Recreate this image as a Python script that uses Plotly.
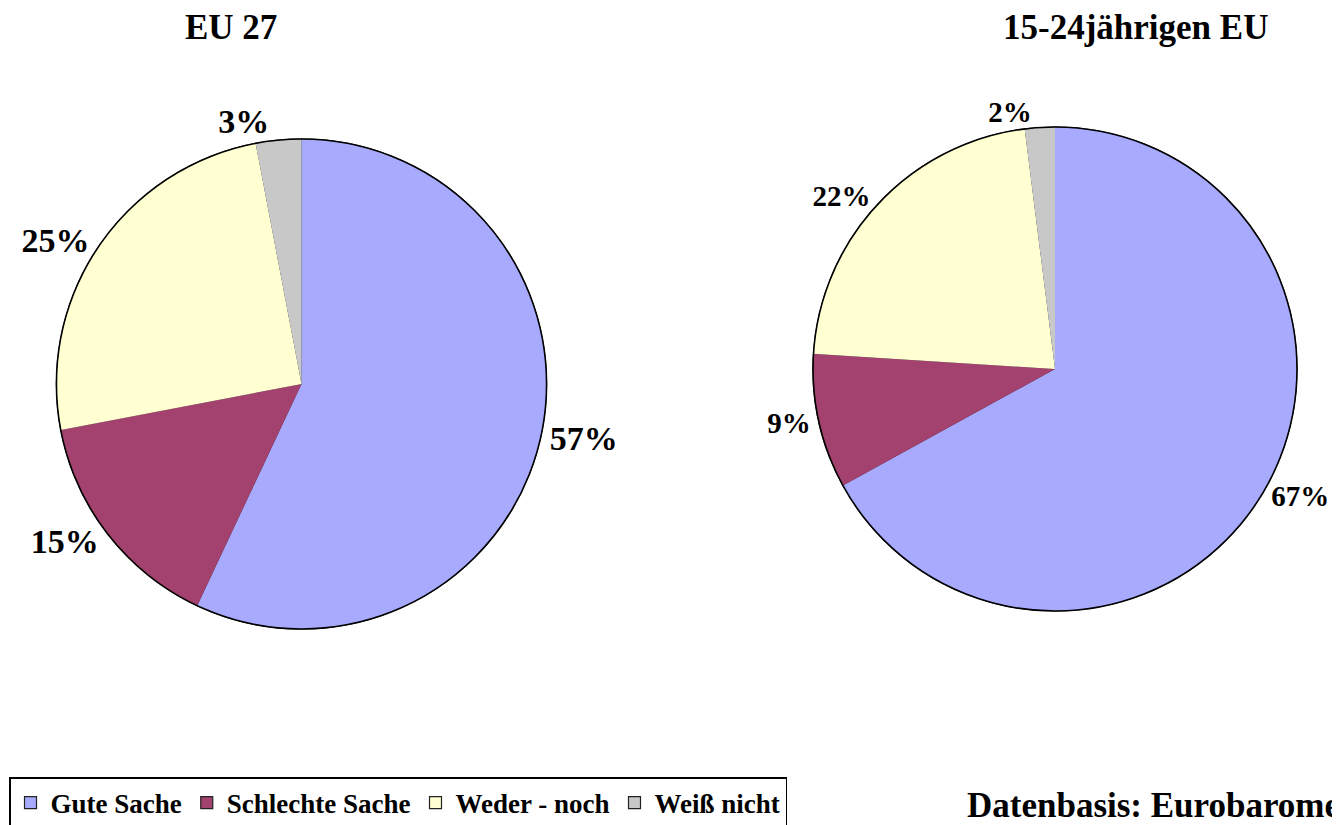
import plotly.graph_objects as go

categories = ["Gute Sache", "Schlechte Sache", "Weder - noch", "Weiß nicht"]
eu27_values = [57, 15, 25, 3]
youth_values = [67, 9, 22, 2]
titles = ["EU 27", "15-24jährigen EU"]
colors = ["#A8AAFE", "#A4426F", "#FFFFD2", "#C8C8C8"]
source_text = "Datenbasis: Eurobarometer"

SERIF = "Liberation Serif, Times New Roman, serif"
W, H = 1340, 825
OFF = 8  # page body margin

def px_x(x):
    return (x - OFF) / W

def px_y(y):
    return 1 - (y - OFF) / H

def dom(cx, cy, r):
    return dict(x=[px_x(cx - r), px_x(cx + r)], y=[px_y(cy + r), px_y(cy - r)])

left_dom = dom(301.5, 384, 245)
right_dom = dom(1055, 369, 242)

fig = go.Figure()

for vals, d, fs in [(eu27_values, left_dom, 34), (youth_values, right_dom, 29)]:
    # underlay: carries the legend symbols with dark borders
    fig.add_trace(go.Pie(
        labels=categories, values=vals, domain=d,
        sort=False, direction="clockwise", rotation=0,
        marker=dict(colors=colors, line=dict(width=1.2, color="#222")),
        textinfo="none", showlegend=True, hoverinfo="skip",
    ))
    # visible slices without radial edges
    fig.add_trace(go.Pie(
        labels=categories, values=vals, domain=d,
        sort=False, direction="clockwise", rotation=0,
        marker=dict(colors=colors, line=dict(width=0)),
        textposition="outside", texttemplate="%{value}%",
        outsidetextfont=dict(family=SERIF, size=fs, color="black", weight="bold"),
        showlegend=False, hoverinfo="label+percent",
    ))
    # outer outline circle
    fig.add_trace(go.Pie(
        labels=["outline"], values=[1], domain=d,
        marker=dict(colors=["rgba(0,0,0,0)"], line=dict(width=1.6, color="black")),
        textinfo="none", showlegend=False, hoverinfo="skip",
    ))

fig.add_annotation(x=px_x(231), y=px_y(27), xref="paper", yref="paper", text=titles[0],
                   xanchor="center", yanchor="middle", showarrow=False,
                   font=dict(family=SERIF, size=35, color="black", weight="bold"))
fig.add_annotation(x=px_x(1135), y=px_y(27), xref="paper", yref="paper", text=titles[1],
                   xanchor="center", yanchor="middle", showarrow=False,
                   font=dict(family=SERIF, size=35, color="black", weight="bold"))
fig.add_annotation(x=px_x(965), y=px_y(805), xref="paper", yref="paper", text=source_text,
                   xanchor="left", yanchor="middle", showarrow=False,
                   font=dict(family=SERIF, size=35, color="black", weight="bold"))

fig.update_layout(
    width=W, height=H, margin=dict(l=0, r=0, t=0, b=0),
    paper_bgcolor="white", plot_bgcolor="white",
    legend=dict(orientation="h", x=px_x(9), y=px_y(777), xanchor="left", yanchor="top",
                bordercolor="black", borderwidth=1.5,
                font=dict(family=SERIF, size=27, color="black", weight="bold"),
                traceorder="normal"),
)

fig.write_html("out.html")
